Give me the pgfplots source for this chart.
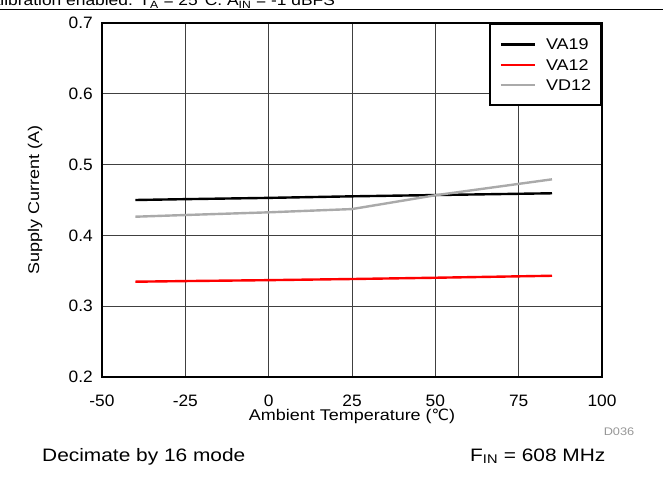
\documentclass[border=0pt]{standalone}
\usepackage{pgfplots}
\pgfplotsset{compat=1.18}
\usepackage{fontspec}
\setmainfont{Liberation Sans}[FakeStretch=1.16]
\newfontfamily\tickfont{Liberation Sans}[FakeStretch=1.05]
\newfontfamily\dejavu{DejaVu Sans}

\definecolor{vdgray}{RGB}{170,170,170}
\definecolor{tagray}{RGB}{150,150,150}

\begin{document}
\begin{tikzpicture}
\useasboundingbox (0pt,0pt) rectangle (663pt,483pt);
\clip (0pt,0pt) rectangle (663pt,483pt);

% header line, cut off at the top like the source page
\node[anchor=base west, inner sep=0pt, font=\fontsize{15}{18}\selectfont]
  at (-22pt,477pt) {Calibration enabled. T\textsubscript{A} = 25°C. A\textsubscript{IN} = -1 dBFS};
\draw[line width=1pt] (0pt,473.5pt) -- (663pt,473.5pt);

\begin{axis}[
  at={(102pt,106pt)}, anchor=south west,
  scale only axis, width=500pt, height=354pt,
  xmin=-50, xmax=100, ymin=0.2, ymax=0.7,
  xtick={-50,-25,0,25,50,75,100},
  xticklabels={-50,-25,0,25,50,75,100},
  ytick={0.2,0.3,0.4,0.5,0.6,0.7},
  yticklabels={0.2,0.3,0.4,0.5,0.6,0.7},
  tick style={draw=none},
  grid=major,
  grid style={black!75, line width=0.8pt},
  axis line style={line width=2pt},
  ticklabel style={font=\tickfont\fontsize{16.5}{19}\selectfont},
  xticklabel style={inner sep=0pt, anchor=north, yshift=-18pt},
  yticklabel style={inner sep=0pt, anchor=east, xshift=-9pt},
  xlabel={Ambient Temperature ({\dejavu ℃})},
  ylabel={Supply Current (A)},
  label style={font=\fontsize{15.5}{18}\selectfont},
  xlabel style={at={(axis description cs:0.5,-0.124)}, anchor=base},
  ylabel style={at={(axis description cs:-0.134,0.5)}, anchor=center},
  legend cell align=left,
  legend image code/.code={\draw[#1, line width=2.2pt] (0pt,0pt) -- (34pt,0pt);},
  legend style={at={(1,1)}, anchor=north east, draw=black, line width=2pt,
    font=\fontsize{15.5}{18}\selectfont,
    nodes={inner sep=0pt, text depth=0pt},
    inner xsep=10pt, inner ysep=15pt, row sep=9.5pt, column sep=10pt},
]

\addplot[black, line width=2.4pt] coordinates {
  (-40,0.4500) (-25,0.4512) (0,0.4530) (25,0.4552) (50,0.4570) (85,0.4595)
};
\addlegendentry{VA19}

\addplot[red, line width=2.4pt] coordinates {
  (-40,0.3346) (-25,0.3355) (0,0.3368) (25,0.3384) (50,0.3402) (85,0.3430)
};
\addlegendentry{VA12}

\addplot[vdgray, line width=2.4pt] coordinates {
  (-40,0.4264) (-25,0.4288) (0,0.4326) (25,0.4372) (50,0.4567) (85,0.4792)
};
\addlegendentry{VD12}

\end{axis}

\node[text=tagray, font=\fontsize{11}{13}\selectfont] at (619pt,51pt) {D036};
\node[anchor=base west, inner sep=0pt, font=\fontsize{18}{21}\selectfont] at (42pt,22pt) {Decimate by 16 mode};
\node[anchor=base west, inner sep=0pt, font=\fontsize{18}{21}\selectfont] at (470pt,22pt) {F\textsubscript{IN} = 608 MHz};
\end{tikzpicture}
\end{document}
